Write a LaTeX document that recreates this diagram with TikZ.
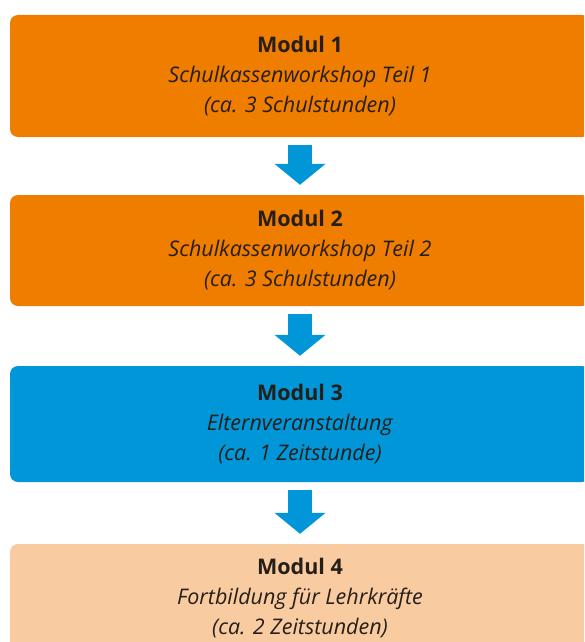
\documentclass[tikz,border=0pt]{standalone}
\usepackage{fontspec}
\setmainfont{Open Sans}
\usetikzlibrary{arrows.meta}

\definecolor{modorange}{RGB}{238,125,0}
\definecolor{modblue}{RGB}{0,150,216}
\definecolor{modpeach}{RGB}{248,203,160}
\definecolor{modtext}{RGB}{38,30,24}

\tikzset{
  modul/.style={rounded corners=8pt, minimum width=580pt, inner sep=0pt,
    align=center, text=modtext, font=\fontsize{21.5}{30}\selectfont},
  flow/.style={draw=modblue, line width=24pt,
    -{Triangle[width=50pt,length=21pt]}, shorten <=8pt, shorten >=10pt}
}

\begin{document}
\begin{tikzpicture}[x=1pt,y=-1pt]
    
\def\MODTITLE#1{\textbf{Modul #1}}
	\useasboundingbox (0,0) rectangle (584,642);
	\clip (0,0) rectangle (584,642);
	% the four modules
	\node[modul, fill=modorange, minimum height=122pt] (m1) at (300,76)
		{\MODTITLE{1}\\ \textit{Schulkassenworkshop Teil 1}\\ \textit{(ca. 3 Schulstunden)}};
	\node[modul, fill=modorange, minimum height=111pt] (m2) at (300,250.5)
		{\MODTITLE{2}\\ \textit{Schulkassenworkshop Teil 2}\\ \textit{(ca. 3 Schulstunden)}};
	\node[modul, fill=modblue, minimum height=116pt] (m3) at (300,424)
		{\MODTITLE{3}\\ \textit{Elternveranstaltung}\\ \textit{(ca. 1 Zeitstunde)}};
	\node[modul, fill=modpeach, minimum height=108pt] (m4) at (300,598)
		{\MODTITLE{4}\\ \textit{Fortbildung für Lehrkräfte}\\ \textit{(ca. 2 Zeitstunden)}};
	% arrows between them
	\draw[flow] (m1) -- (m2);
	\draw[flow] (m2) -- (m3);
	\draw[flow] (m3) -- (m4);

          \end{tikzpicture}
\end{document}
